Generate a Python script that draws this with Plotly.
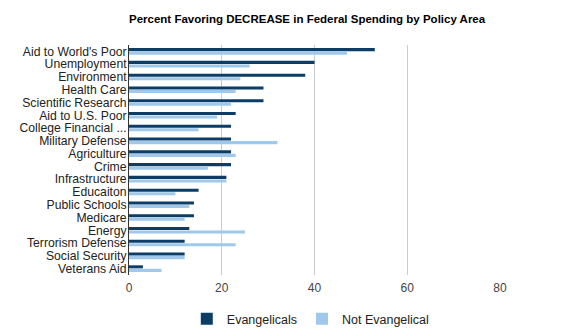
import plotly.graph_objects as go

categories = ["Aid to World's Poor", "Unemployment", "Environment", "Health Care",
              "Scientific Research", "Aid to U.S. Poor", "College Financial ...",
              "Military Defense", "Agriculture", "Crime", "Infrastructure",
              "Educaiton", "Public Schools", "Medicare", "Energy",
              "Terrorism Defense", "Social Security", "Veterans Aid"]
evangelicals = [53, 40, 38, 29, 29, 23, 22, 22, 22, 22, 21, 15, 14, 14, 13, 12, 12, 3]
not_evangelical = [47, 26, 24, 23, 22, 19, 15, 32, 23, 17, 21, 10, 13, 12, 25, 23, 12, 7]
x_ticks = [0, 20, 40, 60, 80]

FONT = "Liberation Sans, Arial, sans-serif"

fig = go.Figure()
fig.add_trace(go.Bar(y=categories, x=evangelicals, orientation="h", name="Evangelicals",
                     marker=dict(color="#0b3d66", line=dict(width=0))))
fig.add_trace(go.Bar(y=categories, x=not_evangelical, orientation="h", name="Not Evangelical",
                     marker=dict(color="#9fc8ea", line=dict(width=0))))

fig.update_layout(
    width=580, height=330,
    margin=dict(l=129, r=80, t=45, b=55, autoexpand=False),
    paper_bgcolor="white", plot_bgcolor="white",
    barmode="group", bargap=0.45, bargroupgap=0.12,
    font=dict(family=FONT, size=12, color="#222222"),
    title=dict(text="<b>Percent Favoring DECREASE in Federal Spending by Policy Area</b>",
               x=0, xref="paper", xanchor="left",
               y=1 - 19 / 330, yref="container", yanchor="middle",
               font=dict(family=FONT, size=11.5, color="#000000")),
    legend=dict(orientation="h", x=0.49, xanchor="center",
                y=1 - 304 / 330, yref="container", yanchor="top",
                font=dict(family=FONT, size=12.5, color="#222222"),
                itemwidth=30, tracegroupgap=0),
    showlegend=True,
)
fig.update_xaxes(range=[0, 80], tickvals=x_ticks, showgrid=True, gridcolor="#cccccc",
                 gridwidth=1, zeroline=False, showline=False, ticks="",
                 tickfont=dict(family=FONT, size=12, color="#444444"), fixedrange=True,
                 ticklabelstandoff=4)
fig.update_yaxes(autorange="reversed", showline=True, linecolor="#333333", linewidth=1,
                 ticks="", showgrid=False, tickmode="array", tickvals=categories,
                 tickfont=dict(family=FONT, size=12.2, color="#222222"),
                 ticklabelstandoff=-1)

fig.write_html("out.html")
